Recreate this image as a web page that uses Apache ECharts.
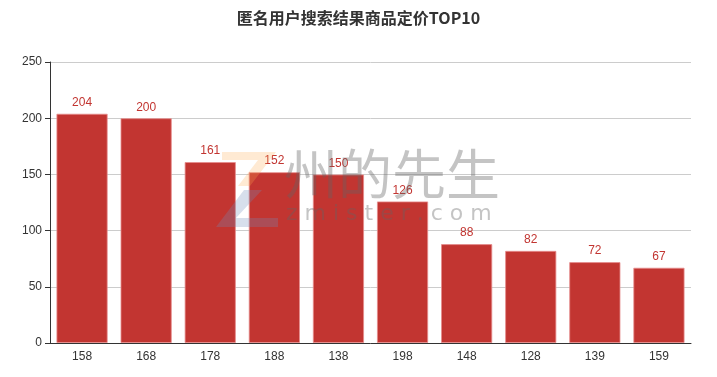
<!DOCTYPE html>
<html>
<head>
<meta charset="utf-8">
<script src="https://cdn.jsdelivr.net/npm/echarts@6/dist/echarts.min.js"></script>
<style>
html,body{margin:0;padding:0;background:#fff;}
#main{width:717px;height:377px;}
</style>
</head>
<body>
<div id="main"></div>
<script>
var categories = ['158','168','178','188','138','198','148','128','139','159'];
var counts = [204, 200, 161, 152, 150, 126, 88, 82, 72, 67];
var yTicks = [0, 50, 100, 150, 200, 250];

var chart = echarts.init(document.getElementById('main'));

var option = {
    title: {
        text: '匿名用户搜索结果商品定价TOP10',
        left: 'center',
        top: 5,
        textStyle: {
            color: '#333',
            fontSize: 16,
            fontWeight: 'bold',
            fontFamily: 'Noto Sans CJK SC'
        }
    },
    grid: {
        left: 50,
        right: 26,
        top: 62,
        bottom: 34
    },
    xAxis: {
        type: 'category',
        data: categories,
        axisLine: { lineStyle: { color: '#333' } },
        axisTick: { lineStyle: { color: '#333' } },
        axisLabel: { color: '#333', fontSize: 12, margin: 8 }
    },
    yAxis: {
        type: 'value',
        min: yTicks[0],
        max: yTicks[yTicks.length - 1],
        interval: 50,
        axisLine: { show: true, lineStyle: { color: '#333' } },
        axisTick: { show: true, lineStyle: { color: '#333' } },
        axisLabel: { color: '#333', fontSize: 12 },
        splitLine: { lineStyle: { color: '#ccc' } }
    },
    series: [
        {
            name: '数量',
            type: 'bar',
            barWidth: '80%',
            data: counts,
            itemStyle: {
                color: '#c23531',
                borderColor: 'rgba(230,140,140,0.8)',
                borderWidth: 1
            },
            label: {
                show: true,
                position: 'top',
                color: '#c23531',
                fontSize: 12
            }
        }
    ],
    // 水印
    graphic: [
        {
            type: 'polygon',
            z: 100,
            shape: { points: [[222,152],[276,152],[250,186],[238,186],[258,160],[222,160]] },
            style: { fill: 'rgba(255,170,80,0.25)' }
        },
        {
            type: 'polygon',
            z: 100,
            shape: { points: [[244,190],[262,190],[236,218],[278,218],[278,227],[216,227]] },
            style: { fill: 'rgba(110,140,185,0.28)' }
        },
        {
            type: 'text',
            left: 284,
            top: 147,
            z: 100,
            style: {
                text: '州的先生',
                fontSize: 54,
                fontFamily: 'Noto Sans CJK SC',
                fill: 'rgba(100,100,100,0.38)'
            }
        },
        {
            type: 'text',
            left: 286,
            top: 203,
            z: 100,
            style: {
                text: 'z m i s t e r . c o m',
                fontSize: 22,
                fontFamily: 'DejaVu Sans',
                fill: 'rgba(100,100,100,0.38)'
            }
        }
    ]
};

chart.setOption(option);
</script>
</body>
</html>
